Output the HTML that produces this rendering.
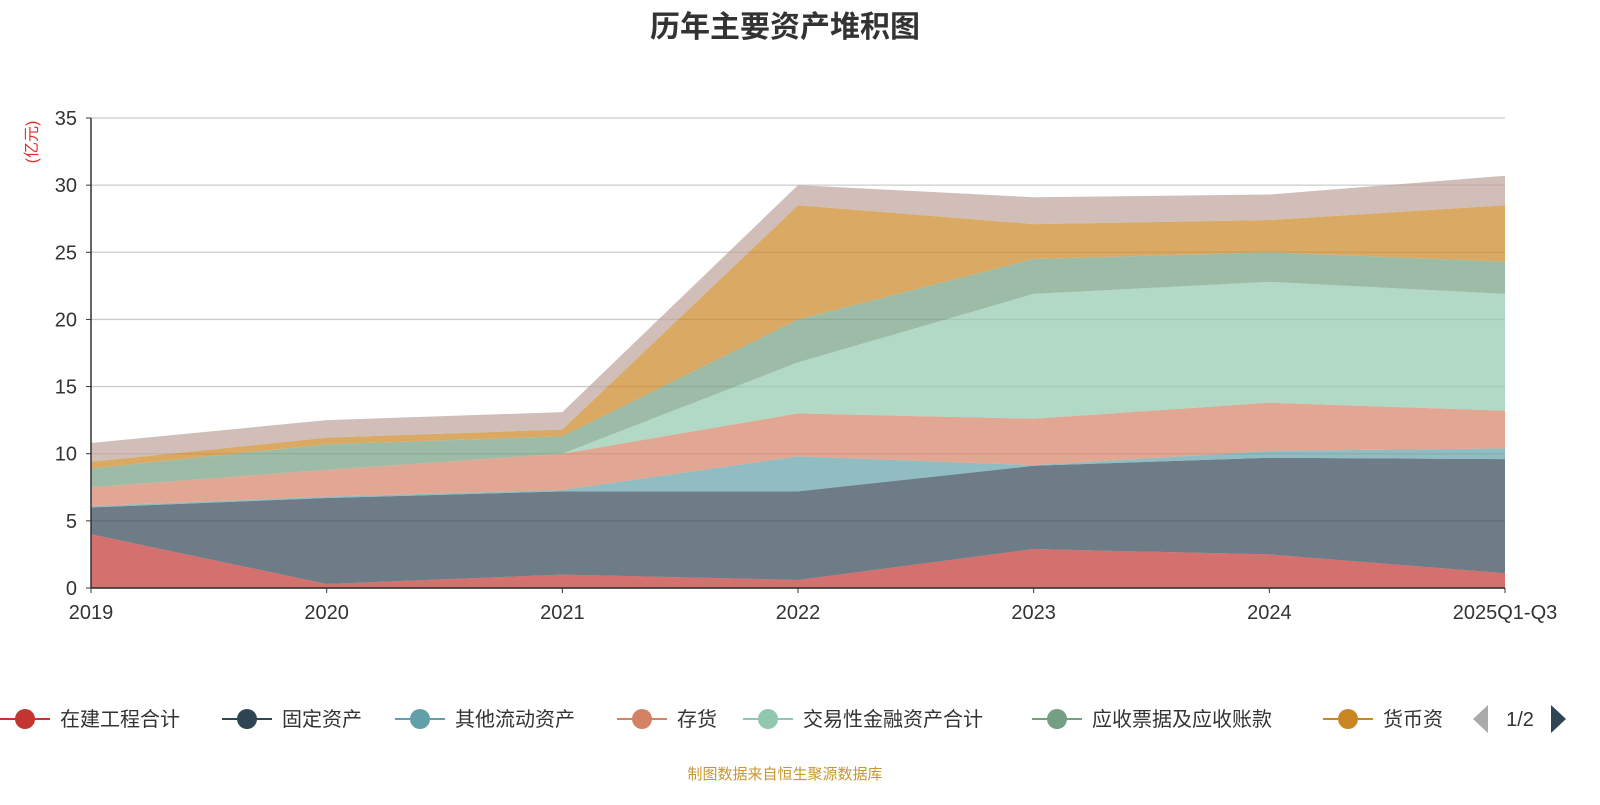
<!DOCTYPE html>
<html><head><meta charset="utf-8"><style>
body{margin:0;background:#fff;width:1600px;height:800px;overflow:hidden;font-family:"Liberation Sans","Noto Sans CJK SC",sans-serif}
</style></head><body>
<svg id="chart" width="1600" height="800" xmlns="http://www.w3.org/2000/svg" font-family="Liberation Sans, Noto Sans CJK SC, sans-serif">
<text x="785" y="37" text-anchor="middle" font-size="30" font-weight="bold" fill="#333">历年主要资产堆积图</text>
<text transform="translate(37,142) rotate(-90)" text-anchor="middle" font-size="16" fill="#e03030">(亿元)</text>
<g id="grid"></g><g id="areas"></g><g id="axes"></g><g id="legend"></g>
<text x="785" y="779" text-anchor="middle" font-size="15" fill="#c8962e">制图数据来自恒生聚源数据库</text>
</svg>
<script>
const categories=["2019","2020","2021","2022","2023","2024","2025Q1-Q3"];
const seriesNames=["在建工程合计","固定资产","其他流动资产","存货","交易性金融资产合计","应收票据及应收账款","货币资金","其他"];
const s0=[4.0,0.3,1.0,0.6,2.9,2.5,1.1];
const s1=[2.0,6.4,6.2,6.6,6.2,7.2,8.5];
const s2=[0.1,0.1,0.1,2.6,0.05,0.5,0.8];
const s3=[1.4,2.0,2.7,3.2,3.45,3.6,2.8];
const s4=[0.0,0.0,0.0,3.8,9.3,9.0,8.7];
const s5=[1.4,1.9,1.3,3.2,2.6,2.2,2.4];
const s6=[0.5,0.5,0.5,8.5,2.6,2.4,4.2];
const s7=[1.4,1.3,1.3,1.5,2.0,1.9,2.2];
const yTicks=[0,5,10,15,20,25,30,35];
const seriesData=[s0,s1,s2,s3,s4,s5,s6,s7];
const colors=["#c23531","#2f4554","#61a0a8","#d48265","#91c7ae","#749f83","#ca8622","#bda29a"];
const NS="http://www.w3.org/2000/svg";
const x0=91,x1=1505,yBase=588,yTop=118,yMax=35;
const X=i=>x0+(x1-x0)*i/(categories.length-1);
const Y=v=>yBase-(yBase-yTop)*v/yMax;
function mk(t,a,p){const e=document.createElementNS(NS,t);for(const k in a)e.setAttribute(k,a[k]);p.appendChild(e);return e;}
const grid=document.getElementById('grid');
yTicks.forEach(v=>{
 const l=mk('line',{x1:x0,x2:x1,y1:Y(v),y2:Y(v),stroke:v===0?'#333':'#ccc','stroke-width':1.3},grid);
 
 
 const t=mk('text',{x:x0-14,y:Y(v)+7,'text-anchor':'end','font-size':20,fill:'#333'},grid);t.textContent=v;
 
 
 mk('line',{x1:x0-5,x2:x0,y1:Y(v),y2:Y(v),stroke:'#333'},grid);
});
const areas=document.getElementById('areas');
let cum=categories.map(()=>0);
seriesData.forEach((s,k)=>{
 const lo=cum.slice();const hi=cum.map((c,i)=>c+s[i]);
 let pts=hi.map((v,i)=>X(i)+','+Y(v));
 for(let i=lo.length-1;i>=0;i--)pts.push(X(i)+','+Y(lo[i]));
 const p=mk('polygon',{points:pts.join(' '),fill:colors[k],'fill-opacity':0.7},areas);
 
 
 cum=hi;
});
const axes=document.getElementById('axes');
mk('line',{x1:x0,x2:x0,y1:yTop,y2:yBase,stroke:'#333','stroke-width':1.5},axes);
mk('line',{x1:x0,x2:x1,y1:yBase,y2:yBase,stroke:'#333','stroke-width':1.5},axes);
categories.forEach((c,i)=>{
 mk('line',{x1:X(i),x2:X(i),y1:yBase,y2:yBase+5,stroke:'#333'},axes);
 const t=mk('text',{x:X(i),y:619,'text-anchor':'middle','font-size':20,fill:'#333'},axes);t.textContent=c;
 
 
});
const legend=document.getElementById('legend');
const lx=[0,222,395,617,743,1032,1323];
lx.forEach((x,k)=>{
 const g=mk('g',{},legend);
 
 
 mk('line',{x1:x,x2:x+50,y1:719,y2:719,stroke:colors[k],'stroke-width':2},g);
 mk('circle',{cx:x+25,cy:719,r:10,fill:colors[k]},g);
 const t=mk('text',{x:x+60,y:726,'font-size':20,fill:'#333'},g);
 t.textContent=k===6?'货币资':seriesNames[k];
});
const pv=mk('polygon',{points:'1473,719 1488,705 1488,733',fill:'#aaa'},legend);


const pg=mk('text',{x:1520,y:726,'text-anchor':'middle','font-size':20,fill:'#333'},legend);pg.textContent='1/2';


const nx=mk('polygon',{points:'1566,719 1551,705 1551,733',fill:'#2f4554'},legend);


</script>
</body></html>
